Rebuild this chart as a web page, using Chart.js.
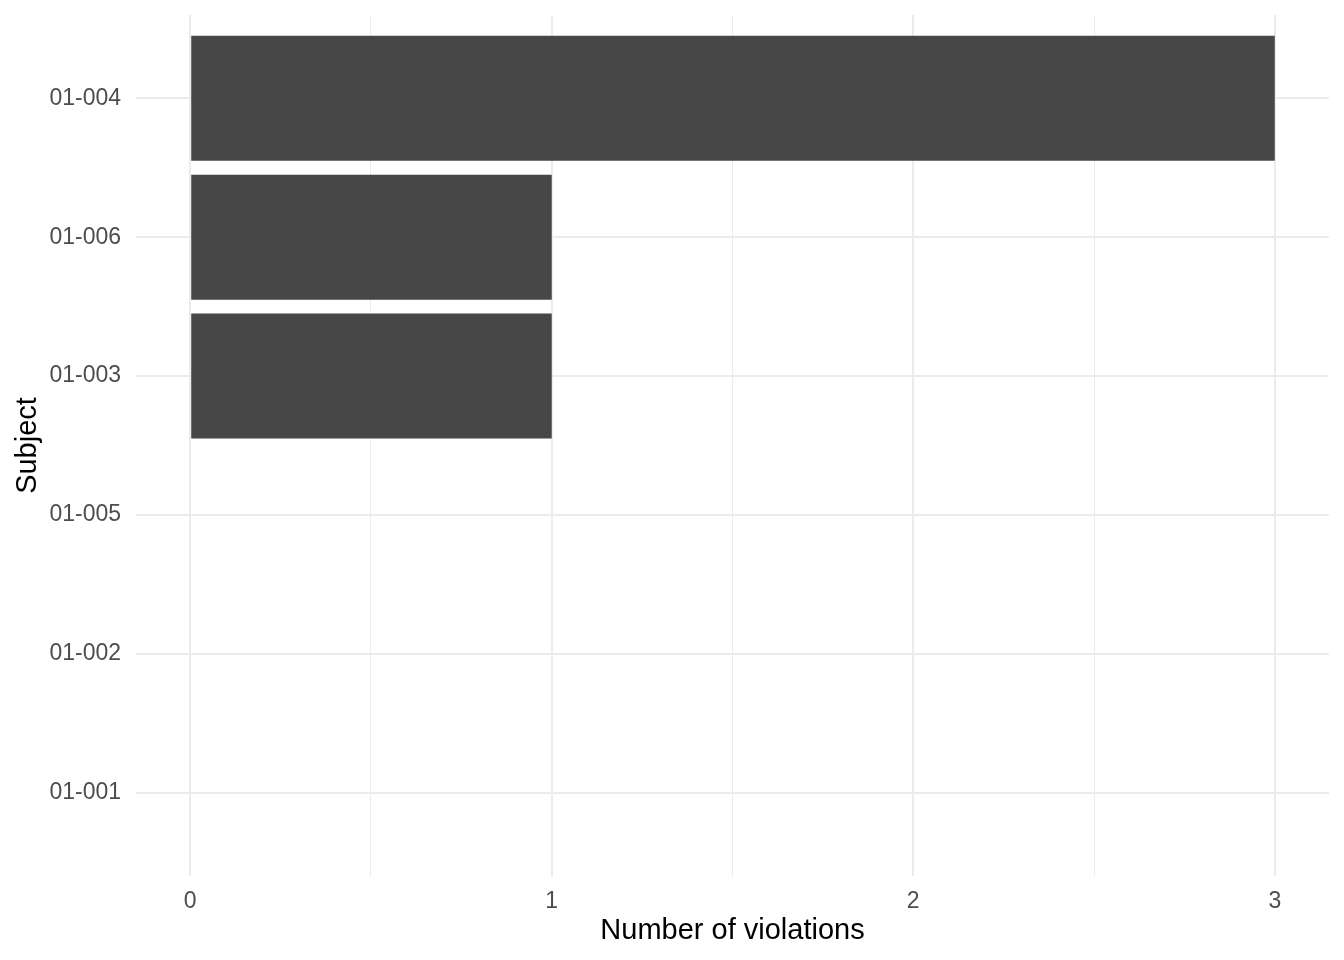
<!DOCTYPE html>
<html>
<head>
<meta charset="utf-8">
<script src="https://cdn.jsdelivr.net/npm/chart.js@4/dist/chart.umd.min.js"></script>
<style>
  body { margin: 0; background: #ffffff; }
</style>
</head>
<body>
<canvas id="bars" width="1344" height="960"></canvas>
<script>
// subjects from top to bottom, as in the picture
const subjects = ['01-004', '01-006', '01-003', '01-005', '01-002', '01-001'];
const violations = [3, 1, 1, 0, 0, 0];
const xTicks = [0, 0.5, 1, 1.5, 2, 2.5, 3];

const gridColor = '#ebebeb';
const fontFamily = '"Liberation Sans", Arial, Helvetica, sans-serif';

const ctx = document.getElementById('bars');

const bars = new Chart(ctx, {
  type: 'bar',
  data: {
    datasets: [{
      label: 'Number of violations',
      data: subjects.map((s, i) => ({ x: violations[i], y: i })),
      backgroundColor: '#474747',
      borderWidth: 0,
      inflateAmount: 0,
      categoryPercentage: 1,
      barPercentage: 0.9
    }]
  },
  options: {
    indexAxis: 'y',
    responsive: false,
    animation: false,
    devicePixelRatio: 1,
    layout: { padding: { top: 15, right: 15, left: 0, bottom: 0 } },
    plugins: {
      legend: { display: false },
      tooltip: { enabled: false }
    },
    scales: {
      x: {
        type: 'linear',
        position: 'bottom',
        min: -0.15,
        max: 3.15,
        bounds: 'data',
        offset: false,
        afterBuildTicks: scale => { scale.ticks = xTicks.map(v => ({ value: v })); },
        afterFit: scale => {
          scale.height = 84;
          scale.paddingLeft = 0;
          scale.paddingRight = 0;
        },
        border: { display: false },
        grid: {
          offset: false,
          color: gridColor,
          lineWidth: c => (c.tick && c.tick.value % 1 === 0 ? 2 : 1),
          drawTicks: false
        },
        ticks: {
          autoSkip: false,
          maxRotation: 0,
          padding: 12,
          color: '#4d4d4d',
          font: { family: fontFamily, size: 23 },
          callback: v => (v % 1 === 0 ? String(v) : '')
        },
        title: {
          display: true,
          text: 'Number of violations',
          color: '#000000',
          font: { family: fontFamily, size: 29 },
          padding: { top: 0, bottom: 12 }
        }
      },
      y: {
        type: 'linear',
        reverse: true,
        min: -0.6,
        max: 5.6,
        bounds: 'data',
        offset: false,
        afterBuildTicks: scale => { scale.ticks = subjects.map((s, i) => ({ value: i })); },
        afterFit: scale => {
          scale.width = 136;
          scale.paddingTop = 0;
          scale.paddingBottom = 0;
        },
        border: { display: false },
        grid: {
          offset: false,
          color: gridColor,
          lineWidth: 2,
          drawTicks: false
        },
        ticks: {
          autoSkip: false,
          padding: 15,
          color: '#4d4d4d',
          font: { family: fontFamily, size: 23 },
          callback: v => subjects[v]
        },
        title: {
          display: true,
          text: 'Subject',
          color: '#000000',
          font: { family: fontFamily, size: 29 },
          padding: { top: 11, bottom: 0 }
        }
      }
    }
  }
});
</script>
</body>
</html>
